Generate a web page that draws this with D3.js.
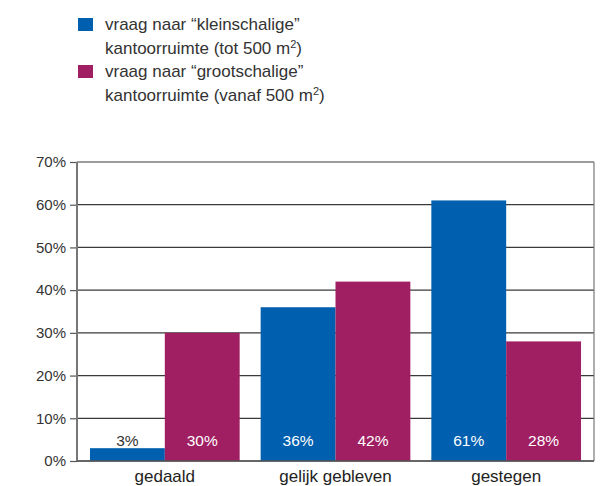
<!DOCTYPE html>
<html>
<head>
<meta charset="utf-8">
<script src="https://cdn.jsdelivr.net/npm/d3@7"></script>
<style>
  html, body { margin: 0; padding: 0; background: #fff; }
  svg { display: block; font-family: "Liberation Sans", Arial, sans-serif; }
</style>
</head>
<body>
<svg id="chart" width="604" height="486"></svg>
<script>
// Categories and series (percentages)
const categories = ["gedaald", "gelijk gebleven", "gestegen"];
const smallOffice = [3, 36, 61];   // kleinschalige kantoorruimte
const largeOffice = [30, 42, 28];  // grootschalige kantoorruimte
const yTicks = [0, 10, 20, 30, 40, 50, 60, 70];
const seriesNames = [
  ["vraag naar \u201ckleinschalige\u201d", "kantoorruimte (tot 500 m", ")"],
  ["vraag naar \u201cgrootschalige\u201d", "kantoorruimte (vanaf 500 m", ")"]
];
const colors = ["#005faf", "#a01f62"];

const svg = d3.select("#chart");
const plotLeft = 77, plotRight = 594, plotTop = 162, plotBottom = 461;

const x = d3.scaleBand().domain(categories).range([plotLeft, plotRight])
  .paddingInner(0.123).paddingOuter(0.076);
const xs = d3.scaleBand().domain([0, 1]).range([0, x.bandwidth()]);
const y = d3.scaleLinear().domain([0, 70]).range([plotBottom, plotTop]);

// Horizontal grid lines
svg.append("g").selectAll("line").data(yTicks).join("line")
  .attr("x1", plotLeft).attr("x2", plotRight)
  .attr("y1", d => y(d)).attr("y2", d => y(d))
  .attr("stroke", "#3a3a3a").attr("stroke-width", 1.2);

// Y axis with percent labels
const yAxis = svg.append("g").attr("transform", `translate(${plotLeft},0)`)
  .call(d3.axisLeft(y).tickValues(yTicks).tickSize(7).tickPadding(4)
    .tickFormat(d => d + "%"));
yAxis.select(".domain").remove();
yAxis.selectAll(".tick line").attr("stroke", "#555").attr("stroke-width", 1.2);
yAxis.selectAll("text").attr("fill", "#333").style("font-size", "15px")
  .style("font-family", "'Liberation Sans', Arial, sans-serif");

// Bars
const rows = categories.map((c, i) => ({ cat: c, vals: [smallOffice[i], largeOffice[i]] }));
const groups = svg.append("g").selectAll("g").data(rows).join("g")
  .attr("transform", d => `translate(${x(d.cat)},0)`);
groups.selectAll("rect").data(d => d.vals.map((v, k) => ({ v, k }))).join("rect")
  .attr("x", d => xs(d.k)).attr("width", xs.bandwidth())
  .attr("y", d => y(d.v)).attr("height", d => y(0) - y(d.v))
  .attr("fill", d => colors[d.k]);

// Value labels near the base of each bar
groups.selectAll("text").data(d => d.vals.map((v, k) => ({ v, k }))).join("text")
  .attr("x", d => xs(d.k) + xs.bandwidth() / 2)
  .attr("y", y(0) - 15)
  .attr("text-anchor", "middle")
  .attr("fill", d => d.v > 8 ? "#fff" : "#333")
  .style("font-size", "15.5px")
  .text(d => d.v + "%");

// Frame: left axis, baseline, right border
svg.append("line").attr("x1", plotLeft).attr("x2", plotLeft).attr("y1", plotTop).attr("y2", plotBottom)
  .attr("stroke", "#777").attr("stroke-width", 2);
svg.append("line").attr("x1", plotLeft).attr("x2", plotRight).attr("y1", plotBottom).attr("y2", plotBottom)
  .attr("stroke", "#555").attr("stroke-width", 1.5);
svg.append("line").attr("x1", plotRight).attr("x2", plotRight).attr("y1", plotTop).attr("y2", plotBottom)
  .attr("stroke", "#777").attr("stroke-width", 1.2);

// Category labels
svg.append("g").selectAll("text").data(categories).join("text")
  .attr("x", d => x(d) + x.bandwidth() / 2)
  .attr("y", plotBottom + 21)
  .attr("text-anchor", "middle")
  .attr("fill", "#222")
  .style("font-size", "17px")
  .text(d => d);

// Legend
const legend = svg.append("g");
seriesNames.forEach((s, i) => {
  const base = 30 + i * 47;
  legend.append("rect").attr("x", 78).attr("y", base - 12).attr("width", 15).attr("height", 13)
    .attr("fill", colors[i]);
  legend.append("text").attr("x", 105).attr("y", base).attr("fill", "#333")
    .style("font-size", "17px").text(s[0]);
  const t = legend.append("text").attr("x", 105).attr("y", base + 23.5).attr("fill", "#333")
    .style("font-size", "17px");
  t.append("tspan").text(s[1]);
  t.append("tspan").attr("dy", -6).style("font-size", "11px").text("2");
  t.append("tspan").attr("dy", 6).text(s[2]);
});
</script>
</body>
</html>
